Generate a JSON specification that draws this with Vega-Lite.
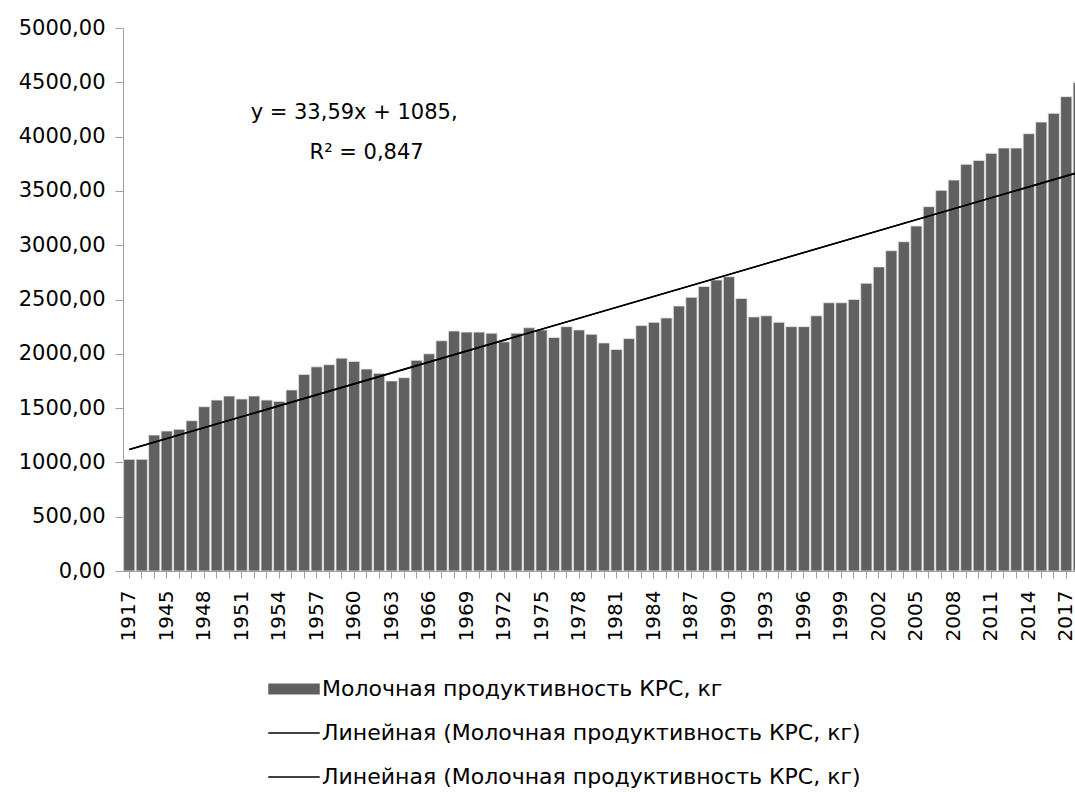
{
  "$schema": "https://vega.github.io/schema/vega-lite/v6.json",
  "autosize": "none",
  "width": 952,
  "height": 543,
  "padding": {"left": 123, "top": 28, "right": 0, "bottom": 221},
  "background": "white",
  "config": {
    "view": {"stroke": null},
    "font": "DejaVu Sans",
    "axis": {"domainColor": "#a0a0a0", "tickColor": "#a0a0a0", "labelColor": "#000000", "labelFont": "DejaVu Sans", "grid": false, "title": null}
  },
  "datasets": {
    "milk": [
      {"year": "1917", "milk": 1028, "series": "bar"},
      {"year": "1940", "milk": 1028, "series": "bar"},
      {"year": "1944", "milk": 1252, "series": "bar"},
      {"year": "1945", "milk": 1289, "series": "bar"},
      {"year": "1946", "milk": 1305, "series": "bar"},
      {"year": "1947", "milk": 1384, "series": "bar"},
      {"year": "1948", "milk": 1513, "series": "bar"},
      {"year": "1949", "milk": 1574, "series": "bar"},
      {"year": "1950", "milk": 1611, "series": "bar"},
      {"year": "1951", "milk": 1584, "series": "bar"},
      {"year": "1952", "milk": 1611, "series": "bar"},
      {"year": "1953", "milk": 1574, "series": "bar"},
      {"year": "1954", "milk": 1562, "series": "bar"},
      {"year": "1955", "milk": 1667, "series": "bar"},
      {"year": "1956", "milk": 1810, "series": "bar"},
      {"year": "1957", "milk": 1880, "series": "bar"},
      {"year": "1958", "milk": 1900, "series": "bar"},
      {"year": "1959", "milk": 1960, "series": "bar"},
      {"year": "1960", "milk": 1930, "series": "bar"},
      {"year": "1961", "milk": 1860, "series": "bar"},
      {"year": "1962", "milk": 1820, "series": "bar"},
      {"year": "1963", "milk": 1750, "series": "bar"},
      {"year": "1964", "milk": 1780, "series": "bar"},
      {"year": "1965", "milk": 1940, "series": "bar"},
      {"year": "1966", "milk": 2000, "series": "bar"},
      {"year": "1967", "milk": 2120, "series": "bar"},
      {"year": "1968", "milk": 2210, "series": "bar"},
      {"year": "1969", "milk": 2200, "series": "bar"},
      {"year": "1970", "milk": 2200, "series": "bar"},
      {"year": "1971", "milk": 2190, "series": "bar"},
      {"year": "1972", "milk": 2110, "series": "bar"},
      {"year": "1973", "milk": 2190, "series": "bar"},
      {"year": "1974", "milk": 2240, "series": "bar"},
      {"year": "1975", "milk": 2220, "series": "bar"},
      {"year": "1976", "milk": 2150, "series": "bar"},
      {"year": "1977", "milk": 2250, "series": "bar"},
      {"year": "1978", "milk": 2220, "series": "bar"},
      {"year": "1979", "milk": 2180, "series": "bar"},
      {"year": "1980", "milk": 2100, "series": "bar"},
      {"year": "1981", "milk": 2040, "series": "bar"},
      {"year": "1982", "milk": 2140, "series": "bar"},
      {"year": "1983", "milk": 2260, "series": "bar"},
      {"year": "1984", "milk": 2290, "series": "bar"},
      {"year": "1985", "milk": 2330, "series": "bar"},
      {"year": "1986", "milk": 2440, "series": "bar"},
      {"year": "1987", "milk": 2520, "series": "bar"},
      {"year": "1988", "milk": 2620, "series": "bar"},
      {"year": "1989", "milk": 2680, "series": "bar"},
      {"year": "1990", "milk": 2710, "series": "bar"},
      {"year": "1991", "milk": 2510, "series": "bar"},
      {"year": "1992", "milk": 2340, "series": "bar"},
      {"year": "1993", "milk": 2350, "series": "bar"},
      {"year": "1994", "milk": 2290, "series": "bar"},
      {"year": "1995", "milk": 2250, "series": "bar"},
      {"year": "1996", "milk": 2250, "series": "bar"},
      {"year": "1997", "milk": 2350, "series": "bar"},
      {"year": "1998", "milk": 2470, "series": "bar"},
      {"year": "1999", "milk": 2470, "series": "bar"},
      {"year": "2000", "milk": 2500, "series": "bar"},
      {"year": "2001", "milk": 2650, "series": "bar"},
      {"year": "2002", "milk": 2800, "series": "bar"},
      {"year": "2003", "milk": 2949, "series": "bar"},
      {"year": "2004", "milk": 3032, "series": "bar"},
      {"year": "2005", "milk": 3177, "series": "bar"},
      {"year": "2006", "milk": 3355, "series": "bar"},
      {"year": "2007", "milk": 3505, "series": "bar"},
      {"year": "2008", "milk": 3600, "series": "bar"},
      {"year": "2009", "milk": 3745, "series": "bar"},
      {"year": "2010", "milk": 3781, "series": "bar"},
      {"year": "2011", "milk": 3846, "series": "bar"},
      {"year": "2012", "milk": 3895, "series": "bar"},
      {"year": "2013", "milk": 3895, "series": "bar"},
      {"year": "2014", "milk": 4027, "series": "bar"},
      {"year": "2015", "milk": 4134, "series": "bar"},
      {"year": "2016", "milk": 4214, "series": "bar"},
      {"year": "2017", "milk": 4368, "series": "bar"},
      {"year": "2018", "milk": 4497, "series": "bar"}
    ],
    "trend1": [
      {"year": "1917", "trend": 1118.6, "series": "t1"},
      {"year": "2018", "trend": 3671.4, "series": "t1"}
    ],
    "trend2": [
      {"year": "1917", "trend": 1118.6, "series": "t2"},
      {"year": "2018", "trend": 3671.4, "series": "t2"}
    ],
    "notes": [
      {"year": "1960", "pos": 4217, "note": "y = 33,59x + 1085,"},
      {"year": "1961", "pos": 3849, "note": "R² = 0,847"}
    ]
  },
  "layer": [
    {
      "data": {"name": "milk"},
      "mark": {"type": "bar", "clip": true, "stroke": "#e6e6e6", "strokeWidth": 0.8},
      "encoding": {
        "x": {
          "field": "year", "type": "ordinal",
          "scale": {"range": [0, 962], "paddingInner": 0.1, "paddingOuter": 0.05},
          "axis": {
            "labelAngle": 270, "labelFontSize": 20, "tickSize": 7, "labelPadding": 12,
            "labelExpr": "(datum.value == '1917' || (toNumber(datum.value) >= 1945 && (toNumber(datum.value) - 1945) % 3 == 0)) ? datum.label : ''"
          }
        },
        "y": {
          "field": "milk", "type": "quantitative",
          "scale": {"domain": [0, 5000], "nice": false},
          "axis": {
            "values": [0, 500, 1000, 1500, 2000, 2500, 3000, 3500, 4000, 4500, 5000],
            "labelFontSize": 21, "tickSize": 8, "labelPadding": 10,
            "labelExpr": "replace(format(datum.value, '.2f'), '.', ',')"
          }
        },
        "color": {
          "field": "series", "type": "nominal",
          "scale": {"domain": ["bar", "t1", "t2"], "range": ["#606060", "#000000", "#000000"]},
          "legend": {
            "orient": "none", "legendX": 145, "legendY": 635, "direction": "vertical",
            "title": null, "padding": 0, "symbolSize": 2650,
            "symbolType": {"expr": "datum.value == 'bar' ? 'M-1,-0.21H1V0.21H-1Z' : 'M-1,-0.028H1V0.028H-1Z'"},
            "symbolStrokeWidth": 0,
            "labelFontSize": 22, "labelFont": "DejaVu Sans", "labelColor": "#000000", "labelOffset": 2,
            "rowPadding": 7, "labelLimit": 0,
            "labelExpr": "datum.value == 'bar' ? 'Молочная продуктивность КРС, кг' : 'Линейная (Молочная продуктивность КРС, кг)'"
          }
        }
      }
    },
    {
      "data": {"name": "trend1"},
      "mark": {"type": "line", "clip": true, "strokeWidth": 1.5},
      "encoding": {
        "x": {"field": "year", "type": "ordinal"},
        "y": {"field": "trend", "type": "quantitative"},
        "color": {"field": "series", "type": "nominal", "legend": null}
      }
    },
    {
      "data": {"name": "trend2"},
      "mark": {"type": "line", "clip": true, "strokeWidth": 1.5},
      "encoding": {
        "x": {"field": "year", "type": "ordinal"},
        "y": {"field": "trend", "type": "quantitative"},
        "color": {"field": "series", "type": "nominal", "legend": null}
      }
    },
    {
      "data": {"name": "notes"},
      "mark": {"type": "text", "fontSize": 21, "font": "DejaVu Sans", "color": "#000000", "align": "center", "baseline": "middle"},
      "encoding": {
        "x": {"field": "year", "type": "ordinal"},
        "y": {"field": "pos", "type": "quantitative"},
        "text": {"field": "note"}
      }
    }
  ]
}
